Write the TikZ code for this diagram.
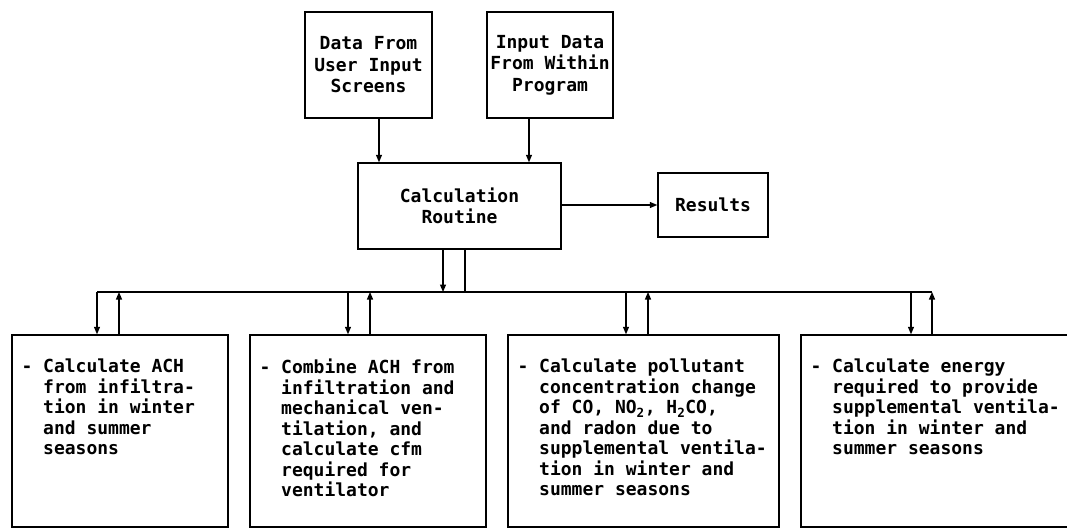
\documentclass[tikz,border=0pt]{standalone}
\usepackage{fontspec}
\newfontfamily\dotfont{DejaVu Sans Mono}
\usepackage{tikz}
\usetikzlibrary{arrows.meta,calc}
\newcommand{\ind}{\phantom{aa}}

\begin{document}
\begin{tikzpicture}[x=1pt,y=1pt,
  box/.style={draw,line width=1.4pt,inner sep=0pt,align=center,font=\dotfont\bfseries\fontsize{18}{21.5}\selectfont},
  desc/.style={inner sep=0pt,anchor=north west,align=left,font=\dotfont\bfseries\fontsize{18}{20.5}\selectfont},
  wire/.style={line width=1.2pt},
  arr/.style={wire,-{Triangle[length=7.5pt,width=6pt]}}]
  \useasboundingbox (0,0) rectangle (1067,-529);
  \node[box,minimum width=127pt,minimum height=106pt] (data) at (368.5,-65) {Data From\\User Input\\Screens};
  \node[box,minimum width=126pt,minimum height=106pt] (indata) at (550,-65) {Input Data\\From Within\\Program};
  \node[box,minimum width=203pt,minimum height=86pt] (calc) at (459.5,-206) {Calculation\\Routine};
  \node[box,minimum width=110pt,minimum height=64pt] (results) at (713,-205) {Results};
  \node[box,minimum width=216pt,minimum height=192pt] (b1) at (120,-431) {};
  \node[box,minimum width=236pt,minimum height=192pt] (b2) at (368,-431) {};
  \node[box,minimum width=271pt,minimum height=192pt] (b3) at (643.5,-431) {};
  \node[box,minimum width=279pt,minimum height=192pt] (b4) at (940.5,-431) {};
  \node[desc] (t1) at ([shift={(10,-24.5)}]b1.north west) {-~Calculate ACH\\\ind from infiltra-\\\ind tion in winter\\\ind and summer\\\ind seasons};
  \node[desc] (t2) at ([shift={(10,-24.5)}]b2.north west) {-~Combine ACH from\\\ind infiltration and\\\ind mechanical ven-\\\ind tilation, and\\\ind calculate cfm\\\ind required for\\\ind ventilator};
  \node[desc] (t3) at ([shift={(10,-24.5)}]b3.north west) {-~Calculate pollutant\\\ind concentration change\\\ind of CO, NO\textsubscript{2}, H\textsubscript{2}CO,\\\ind and radon due to\\\ind supplemental ventila-\\\ind tion in winter and\\\ind summer seasons};
  \node[desc] (t4) at ([shift={(10,-24.5)}]b4.north west) {-~Calculate energy\\\ind required to provide\\\ind supplemental ventila-\\\ind tion in winter and\\\ind summer seasons};
  \coordinate (bus) at (0,-292);
  \coordinate (d1) at ([xshift=10.5pt]data.south);
  \coordinate (d2) at ([xshift=-21pt]indata.south);
  \draw[arr] (d1) -- (d1 |- calc.north);
  \draw[arr] (d2) -- (d2 |- calc.north);
  \draw[arr] (calc.east |- results.west) -- (results.west);
  \coordinate (cdn) at ([xshift=-16.5pt]calc.south);
  \coordinate (cup) at ([xshift=5.5pt]calc.south);
  \draw[arr] (cdn) -- (cdn |- bus);
  \draw[wire] (cup |- bus) -- (cup);
  \foreach \b/\dx/\ux in {b1/-23/-1,b2/-20/2,b3/-17.5/4.5,b4/-29.5/-8.5} {
    \coordinate (\b-dn) at ([xshift=\dx pt]\b.north);
    \coordinate (\b-up) at ([xshift=\ux pt]\b.north);
    \draw[arr] (\b-dn |- bus) -- (\b-dn);
    \draw[arr] (\b-up) -- (\b-up |- bus);
  }
  \draw[wire] (b1-dn |- bus) -- (b4-up |- bus);
\end{tikzpicture}
\end{document}
